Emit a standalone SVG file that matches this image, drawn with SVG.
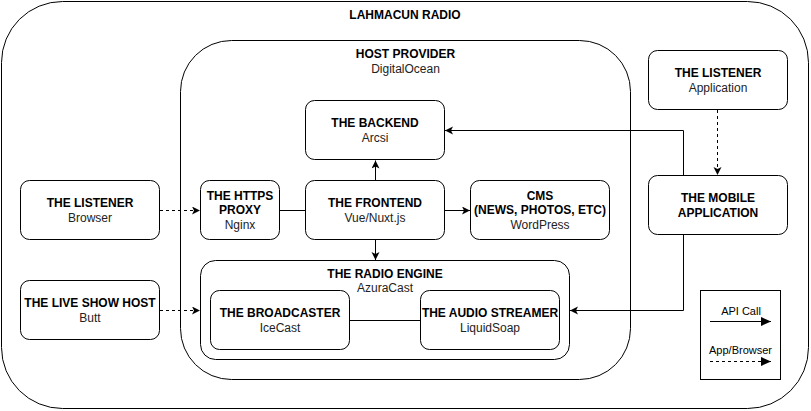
<svg xmlns="http://www.w3.org/2000/svg" width="811" height="411" viewBox="0 0 811 411">
<style>
  .box{fill:#fff;stroke:#000;stroke-width:1}
  .cont{fill:none;stroke:#000;stroke-width:1}
  text{font-family:"Liberation Sans",Arial,Helvetica,sans-serif;font-size:12px;fill:#000;text-anchor:middle}
  .b{font-weight:bold}
  .s{fill:#222}
  .lg{font-size:11px}
  .line{fill:none;stroke:#000;stroke-width:1}
  .dash{stroke-dasharray:3 3}
</style>
<defs>
  <marker id="arr" markerUnits="userSpaceOnUse" markerWidth="10" markerHeight="10" refX="8" refY="4" orient="auto">
    <path d="M0,0 L8,4 L0,8 L2,4 Z" fill="#000"/>
  </marker>
  <marker id="arrL" markerUnits="userSpaceOnUse" markerWidth="12" markerHeight="10" refX="10" refY="4.5" orient="auto">
    <path d="M0,0 L10,4.5 L0,9 Z" fill="#000"/>
  </marker>
</defs>
<rect width="811" height="411" fill="#fff"/>

<g id="lahmacun-radio">
  <rect class="cont" x="1.5" y="1.5" width="807" height="407" rx="61" ry="61"/>
  <text class="b" x="405" y="19">LAHMACUN RADIO</text>
</g>

<g id="host-provider">
  <rect class="cont" x="180.5" y="40.5" width="450" height="339" rx="51" ry="51"/>
  <text class="b" x="405.5" y="58">HOST PROVIDER</text>
  <text class="s" x="405.5" y="73">DigitalOcean</text>
</g>

<g id="radio-engine">
  <rect class="cont" x="200.5" y="260.5" width="369" height="99" rx="15" ry="15"/>
  <text class="b" x="385" y="278">THE RADIO ENGINE</text>
  <text class="s" x="385" y="292">AzuraCast</text>
</g>

<g id="listener-app">
  <rect class="box" x="648.5" y="50.5" width="139" height="59" rx="9" ry="9"/>
  <text class="b" x="718" y="77">THE LISTENER</text>
  <text class="s" x="718" y="92">Application</text>
</g>

<g id="backend">
  <rect class="box" x="305.5" y="100.5" width="139" height="59" rx="9" ry="9"/>
  <text class="b" x="375" y="127">THE BACKEND</text>
  <text class="s" x="375" y="142">Arcsi</text>
</g>

<g id="listener-browser">
  <rect class="box" x="20.5" y="180.5" width="139" height="59" rx="9" ry="9"/>
  <text class="b" x="90" y="207">THE LISTENER</text>
  <text class="s" x="90" y="222">Browser</text>
</g>

<g id="https-proxy">
  <rect class="box" x="200.5" y="180.5" width="79" height="59" rx="9" ry="9"/>
  <text class="b" x="240" y="200">THE HTTPS</text>
  <text class="b" x="240" y="214">PROXY</text>
  <text class="s" x="240" y="228.5">Nginx</text>
</g>

<g id="frontend">
  <rect class="box" x="305.5" y="180.5" width="139" height="59" rx="9" ry="9"/>
  <text class="b" x="375" y="207">THE FRONTEND</text>
  <text class="s" x="375" y="222">Vue/Nuxt.js</text>
</g>

<g id="cms">
  <rect class="box" x="470.5" y="180.5" width="139" height="59" rx="9" ry="9"/>
  <text class="b" x="540" y="200">CMS</text>
  <text class="b" x="540" y="214">(NEWS, PHOTOS, ETC)</text>
  <text class="s" x="540" y="228.5">WordPress</text>
</g>

<g id="mobile-app">
  <rect class="box" x="648.5" y="175.5" width="139" height="59" rx="9" ry="9"/>
  <text class="b" x="718" y="202">THE MOBILE</text>
  <text class="b" x="718" y="216.5">APPLICATION</text>
</g>

<g id="live-show-host">
  <rect class="box" x="20.5" y="280.5" width="139" height="59" rx="9" ry="9"/>
  <text class="b" x="90" y="307">THE LIVE SHOW HOST</text>
  <text class="s" x="90" y="322">Butt</text>
</g>

<g id="broadcaster">
  <rect class="box" x="210.5" y="290.5" width="139" height="59" rx="9" ry="9"/>
  <text class="b" x="280" y="317">THE BROADCASTER</text>
  <text class="s" x="280" y="332">IceCast</text>
</g>

<g id="audio-streamer">
  <rect class="box" x="420.5" y="290.5" width="139" height="59" rx="9" ry="9"/>
  <text class="b" x="490" y="317">THE AUDIO STREAMER</text>
  <text class="s" x="490" y="332">LiquidSoap</text>
</g>

<g id="legend">
  <rect class="box" x="700.5" y="290.5" width="80" height="89"/>
  <text class="lg" x="741" y="315">API Call</text>
  <line class="line" x1="710" y1="321.5" x2="771" y2="321.5" marker-end="url(#arrL)"/>
  <text class="lg" x="740.5" y="354">App/Browser</text>
  <line class="line dash" x1="710" y1="361.5" x2="771" y2="361.5" marker-end="url(#arrL)"/>
</g>

<g id="connectors">
  <line class="line dash" x1="160" y1="210.5" x2="200" y2="210.5" marker-end="url(#arr)"/>
  <line class="line" x1="280" y1="210.5" x2="305" y2="210.5"/>
  <line class="line" x1="375.5" y1="180" x2="375.5" y2="160.5" marker-end="url(#arr)"/>
  <line class="line" x1="445" y1="210.5" x2="470" y2="210.5" marker-end="url(#arr)"/>
  <line class="line" x1="375.5" y1="240" x2="375.5" y2="260" marker-end="url(#arr)"/>
  <line class="line" x1="350" y1="320.5" x2="420" y2="320.5"/>
  <line class="line dash" x1="160" y1="310.5" x2="200" y2="310.5" marker-end="url(#arr)"/>
  <line class="line dash" x1="717.5" y1="110" x2="717.5" y2="175" marker-end="url(#arr)"/>
  <polyline class="line" points="683.5,175 683.5,130.5 445,130.5" marker-end="url(#arr)"/>
  <polyline class="line" points="683.5,235 683.5,310.5 570,310.5" marker-end="url(#arr)"/>
</g>
</svg>
